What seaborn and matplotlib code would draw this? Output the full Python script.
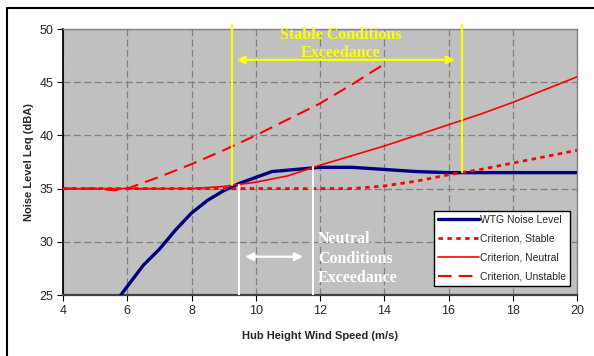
import matplotlib
matplotlib.use("Agg")
import matplotlib.pyplot as plt
import seaborn as sns
import pandas as pd
from matplotlib.lines import Line2D

# ---- data ----
wtg_x = [5.8, 6.5, 7, 7.5, 8, 8.5, 9, 9.5, 10.5, 12, 13, 14, 15, 16, 18, 20]
wtg_y = [25.0, 27.8, 29.3, 31.1, 32.7, 33.9, 34.8, 35.5, 36.6, 37.0, 37.0, 36.8, 36.6, 36.5, 36.5, 36.5]

stable_x = [4, 6, 8, 10, 12, 13, 14, 15, 16, 17, 18, 19, 20]
stable_y = [35.0, 35.0, 35.0, 35.0, 35.0, 35.0, 35.25, 35.7, 36.3, 36.8, 37.4, 38.0, 38.6]

neutral_x = [4, 5, 6, 7, 8, 9, 10, 11, 12, 13, 14, 15, 16, 17, 18, 19, 20]
neutral_y = [35.0, 35.0, 35.0, 35.0, 35.0, 35.2, 35.6, 36.2, 37.2, 38.1, 39.0, 40.0, 41.0, 42.0, 43.1, 44.3, 45.5]

unstable_x = [4, 5, 5.6, 6, 7, 8, 9, 10, 11, 12, 13, 14]
unstable_y = [35.0, 35.0, 34.85, 35.0, 36.1, 37.3, 38.6, 40.0, 41.5, 43.0, 44.8, 46.7]

xticks = [4, 6, 8, 10, 12, 14, 16, 18, 20]
yticks = [25, 30, 35, 40, 45, 50]
labels = ["WTG Noise Level", "Criterion, Stable", "Criterion, Neutral", "Criterion, Unstable"]

sns.set_theme(style="white")
plt.rcParams['font.family'] = ['Liberation Sans', 'DejaVu Sans']

fig = plt.figure(figsize=(5.94, 3.56), dpi=100)
ax = fig.add_axes([63/594, 1-295/356, 514/594, 266/356])
ax.set_facecolor("#C0C0C0")

df_w = pd.DataFrame({"x": wtg_x, "y": wtg_y})
df_s = pd.DataFrame({"x": stable_x, "y": stable_y})
df_n = pd.DataFrame({"x": neutral_x, "y": neutral_y})
df_u = pd.DataFrame({"x": unstable_x, "y": unstable_y})

sns.lineplot(data=df_n, x="x", y="y", ax=ax, color="#FF0000", lw=1.2, sort=False, estimator=None, label=labels[2], zorder=4)
sns.lineplot(data=df_u, x="x", y="y", ax=ax, color="#FF0000", lw=1.5, sort=False, estimator=None, label=labels[3], zorder=4)
sns.lineplot(data=df_s, x="x", y="y", ax=ax, color="#FF0000", lw=2.0, sort=False, estimator=None, label=labels[1], zorder=5)
sns.lineplot(data=df_w, x="x", y="y", ax=ax, color="#000080", lw=2.4, sort=False, estimator=None, label=labels[0], zorder=3)

lines = ax.get_lines()
lines[1].set_dashes([6.5, 3.5])
lines[2].set_dashes([1.6, 1.6])

ax.set_xlim(4, 20)
ax.set_ylim(25, 50)
ax.set_xticks(xticks)
ax.set_yticks(yticks)
ax.grid(True, color="#808080", linestyle=(0, (5.5, 2.8)), lw=0.9)
ax.set_axisbelow(True)
ax.tick_params(axis="both", labelsize=9, length=4, width=0.8, direction="out", color="black", pad=3, bottom=True, left=True)
for s in ["top", "right"]:
    ax.spines[s].set_color("#808080")
    ax.spines[s].set_linewidth(1.0)
ax.spines["left"].set_color("black")
ax.spines["bottom"].set_color("#404040")
ax.spines["bottom"].set_linewidth(1.6)
ax.set_xlabel("Hub Height Wind Speed (m/s)", fontsize=8, fontweight="bold", labelpad=10)
ax.set_ylabel("Noise Level Leq (dBA)", fontsize=8, fontweight="bold", labelpad=4)

# annotations
ax.plot([9.26, 9.26], [50.4, 35.3], color="#FFFF00", lw=1.5, clip_on=False, zorder=6)
ax.plot([16.41, 16.41], [50.4, 36.6], color="#FFFF00", lw=1.5, clip_on=False, zorder=6)
ax.plot([9.48, 9.48], [35.3, 25], color="white", lw=1.5, zorder=6)
ax.plot([11.77, 11.77], [37.0, 25], color="white", lw=1.5, zorder=6)
ax.annotate("", xy=(9.4, 47.1), xytext=(16.2, 47.1),
            arrowprops=dict(arrowstyle="<|-|>", color="#FFFF00", lw=1.6, mutation_scale=12, shrinkA=0, shrinkB=0), zorder=7)
ax.annotate("", xy=(9.67, 28.6), xytext=(11.47, 28.6),
            arrowprops=dict(arrowstyle="<|-|>", color="white", lw=1.6, mutation_scale=12, shrinkA=0, shrinkB=0), zorder=7)
ax.text(12.65, 48.6, "Stable Conditions\nExceedance", color="#FFFF00", fontsize=11.5, fontweight="bold",
        family=["Liberation Serif", "DejaVu Serif"], ha="center", va="center", linespacing=1.2, zorder=7)
ax.text(11.94, 28.4, "Neutral\nConditions\nExceedance", color="white", fontsize=11.5, fontweight="bold",
        family=["Liberation Serif", "DejaVu Serif"], ha="left", va="center", linespacing=1.3, zorder=7)

handles, labs = ax.get_legend_handles_labels()
order = [labs.index(l) for l in labels]
leg = ax.legend([handles[i] for i in order], [labs[i] for i in order], loc="upper left",
                bbox_to_anchor=(0.722, 0.316), borderaxespad=0, fontsize=7.5, frameon=True,
                fancybox=False, edgecolor="black", facecolor="white", framealpha=1,
                handlelength=3.9, handletextpad=0.1, labelspacing=0.85, borderpad=0.4)
leg.get_frame().set_linewidth(1.0)
leg.set_zorder(10)

# outer frame (left and top edges visible)
fig.add_artist(Line2D([6.5/594, 6.5/594], [0, 1 - 7.5/356], transform=fig.transFigure, color="black", lw=1.5))
fig.add_artist(Line2D([6.5/594, 1.0], [1 - 7.5/356, 1 - 7.5/356], transform=fig.transFigure, color="black", lw=1.5))

fig.savefig("out.png", dpi=100)
